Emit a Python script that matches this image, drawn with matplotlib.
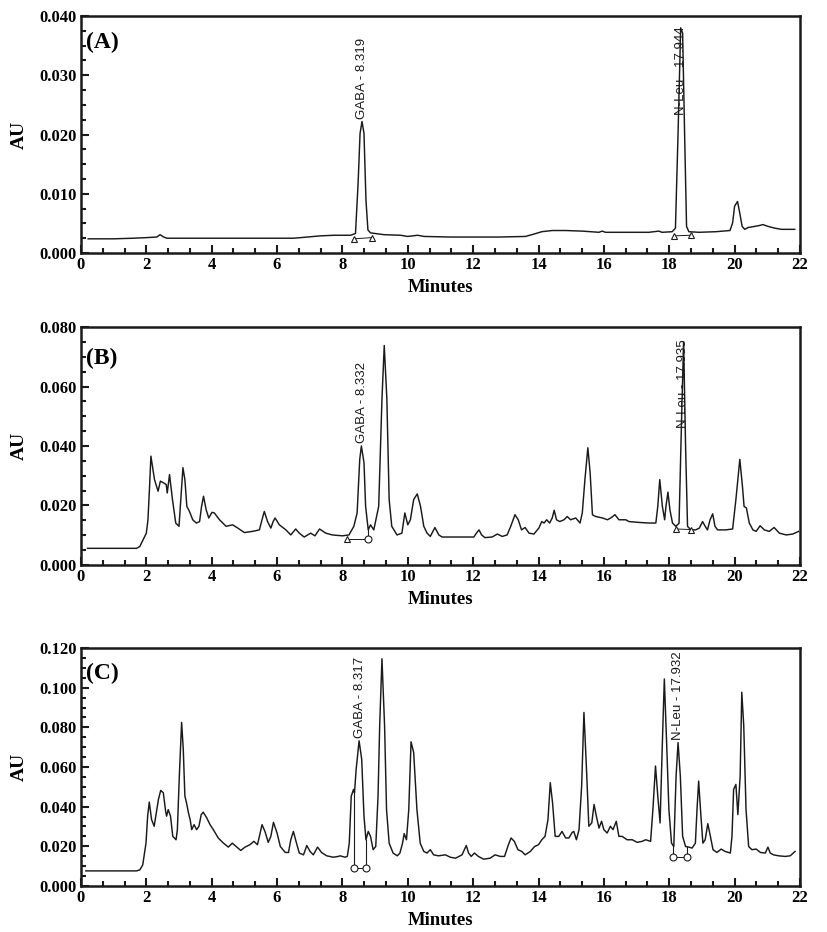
import numpy as np
import matplotlib
matplotlib.use("Agg")
import matplotlib.pyplot as plt
from matplotlib.ticker import MultipleLocator, FormatStrFormatter

# --- Chromatogram (A): standards -------------------------------------------
t_a = [0.22, 1.0, 1.6, 2.0, 2.32, 2.42, 2.53, 2.63, 3.65, 5.7, 6.5, 6.72, 7.33, 7.74,
       8.25, 8.40, 8.48, 8.54, 8.60, 8.66, 8.72, 8.78, 8.86, 9.27, 9.78, 10.0, 10.3,
       10.5, 11.3, 12.8, 13.6, 13.8, 14.1, 14.42, 14.83, 15.34, 15.85, 15.95, 16.05,
       16.87, 17.38, 17.68, 17.78, 18.09, 18.19, 18.27, 18.35, 18.41, 18.47, 18.53,
       18.6, 18.91, 19.42, 19.86, 19.94, 20.0, 20.09, 20.16, 20.23, 20.31, 20.41,
       20.72, 20.87, 21.02, 21.23, 21.43, 21.84]
au_a = [0.0024, 0.0024, 0.0025, 0.0026, 0.0027, 0.0031, 0.0027, 0.0025, 0.0025, 0.0025,
        0.0025, 0.0026, 0.0029, 0.0030, 0.0030, 0.0033, 0.0118, 0.0202, 0.0222, 0.0202,
        0.0090, 0.0039, 0.0034, 0.0031, 0.0030, 0.0028, 0.0030, 0.0028, 0.0027, 0.0027,
        0.0028, 0.0031, 0.0036, 0.0038, 0.0038, 0.0037, 0.0035, 0.0037, 0.0035, 0.0035,
        0.0035, 0.0037, 0.0035, 0.0036, 0.0042, 0.0202, 0.0380, 0.0371, 0.0202, 0.0045,
        0.0036, 0.0035, 0.0036, 0.0038, 0.0051, 0.0079, 0.0087, 0.0067, 0.0045, 0.0040,
        0.0043, 0.0046, 0.0048, 0.0045, 0.0042, 0.0040, 0.0040]

# --- Chromatogram (B) -------------------------------------------------------
t_b = [0.2, 1.7, 1.8, 2.0, 2.05, 2.1, 2.14, 2.25, 2.36, 2.43, 2.53, 2.61, 2.64, 2.71,
       2.80, 2.90, 3.00, 3.07, 3.12, 3.18, 3.24, 3.32, 3.42, 3.53, 3.63, 3.69, 3.75,
       3.83, 3.91, 4.01, 4.08, 4.24, 4.44, 4.64, 4.80, 5.00, 5.25, 5.46, 5.54, 5.61,
       5.71, 5.81, 5.88, 5.94, 6.07, 6.27, 6.42, 6.57, 6.68, 6.83, 7.03, 7.16, 7.30,
       7.49, 7.69, 8.00, 8.20, 8.35, 8.45, 8.53, 8.58, 8.66, 8.71, 8.79, 8.86, 8.96,
       9.11, 9.21, 9.28, 9.36, 9.43, 9.51, 9.67, 9.82, 9.91, 10.0, 10.08, 10.18, 10.29,
       10.39, 10.49, 10.59, 10.69, 10.83, 10.95, 11.05, 11.46, 11.77, 12.02, 12.10,
       12.18, 12.26, 12.36, 12.58, 12.74, 12.89, 13.04, 13.15, 13.28, 13.38, 13.48,
       13.59, 13.71, 13.86, 14.01, 14.10, 14.17, 14.25, 14.34, 14.42, 14.48, 14.55,
       14.65, 14.78, 14.88, 14.98, 15.14, 15.27, 15.34, 15.42, 15.51, 15.58, 15.65,
       15.75, 15.96, 16.11, 16.21, 16.34, 16.46, 16.67, 16.77, 17.08, 17.39, 17.59,
       17.65, 17.71, 17.79, 17.86, 17.90, 17.96, 18.02, 18.10, 18.20, 18.30, 18.38,
       18.44, 18.50, 18.56, 18.66, 18.81, 18.92, 19.02, 19.10, 19.17, 19.25, 19.33,
       19.40, 19.48, 19.73, 19.94, 20.04, 20.16, 20.24, 20.29, 20.36, 20.45, 20.56,
       20.66, 20.78, 20.91, 21.06, 21.21, 21.37, 21.58, 21.78, 21.96]
au_b = [0.0056, 0.0056, 0.0062, 0.0107, 0.0152, 0.0265, 0.0366, 0.0287, 0.0248, 0.0282,
        0.0276, 0.0270, 0.0242, 0.0304, 0.0220, 0.0141, 0.0130, 0.0242, 0.0327, 0.0287,
        0.0197, 0.0180, 0.0152, 0.0141, 0.0146, 0.0197, 0.0231, 0.0186, 0.0158, 0.0177,
        0.0175, 0.0152, 0.0130, 0.0135, 0.0124, 0.0109, 0.0113, 0.0118, 0.0152, 0.0180,
        0.0146, 0.0124, 0.0146, 0.0158, 0.0135, 0.0118, 0.0101, 0.0121, 0.0107, 0.0094,
        0.0107, 0.0098, 0.0121, 0.0107, 0.0101, 0.0098, 0.0101, 0.0130, 0.0175, 0.0355,
        0.0400, 0.0344, 0.0197, 0.0118, 0.0135, 0.0118, 0.0197, 0.0558, 0.0738, 0.0558,
        0.0220, 0.0130, 0.0101, 0.0107, 0.0175, 0.0135, 0.0152, 0.0220, 0.0239, 0.0197,
        0.0130, 0.0107, 0.0096, 0.0126, 0.0101, 0.0094, 0.0094, 0.0094, 0.0094, 0.0107,
        0.0118, 0.0101, 0.0092, 0.0094, 0.0104, 0.0096, 0.0101, 0.0130, 0.0169, 0.0152,
        0.0118, 0.0126, 0.0107, 0.0104, 0.0124, 0.0146, 0.0141, 0.0152, 0.0141, 0.0158,
        0.0184, 0.0152, 0.0146, 0.0152, 0.0163, 0.0152, 0.0158, 0.0141, 0.0175, 0.0287,
        0.0394, 0.0310, 0.0169, 0.0163, 0.0158, 0.0152, 0.0158, 0.0169, 0.0152, 0.0152,
        0.0146, 0.0143, 0.0141, 0.0141, 0.0197, 0.0287, 0.0197, 0.0152, 0.0197, 0.0245,
        0.0186, 0.0141, 0.0130, 0.0140, 0.0500, 0.0750, 0.0400, 0.0130, 0.0118, 0.0118,
        0.0124, 0.0146, 0.0130, 0.0118, 0.0152, 0.0172, 0.0130, 0.0118, 0.0118, 0.0121,
        0.0220, 0.0355, 0.0265, 0.0197, 0.0192, 0.0141, 0.0118, 0.0113, 0.0132, 0.0118,
        0.0113, 0.0126, 0.0107, 0.0101, 0.0104, 0.0113]

# --- Chromatogram (C) -------------------------------------------------------
t_c = [0.15, 1.70, 1.80, 1.89, 1.99, 2.04, 2.09, 2.16, 2.24, 2.32, 2.37, 2.44, 2.52,
       2.59, 2.62, 2.67, 2.74, 2.81, 2.91, 2.95, 3.01, 3.08, 3.13, 3.18, 3.23, 3.29,
       3.34, 3.39, 3.46, 3.54, 3.61, 3.68, 3.74, 3.85, 3.95, 4.05, 4.20, 4.36, 4.51,
       4.63, 4.77, 4.89, 5.02, 5.17, 5.29, 5.40, 5.46, 5.54, 5.63, 5.73, 5.81, 5.89,
       6.00, 6.10, 6.25, 6.35, 6.42, 6.50, 6.58, 6.68, 6.81, 6.91, 7.01, 7.11, 7.24,
       7.36, 7.52, 7.72, 7.88, 7.93, 8.08, 8.15, 8.21, 8.27, 8.34, 8.37, 8.42, 8.51,
       8.59, 8.66, 8.72, 8.79, 8.86, 8.94, 9.02, 9.09, 9.14, 9.21, 9.29, 9.35, 9.43,
       9.55, 9.68, 9.76, 9.84, 9.89, 9.96, 10.03, 10.10, 10.18, 10.28, 10.38, 10.49,
       10.59, 10.69, 10.79, 10.94, 11.15, 11.30, 11.46, 11.66, 11.73, 11.79, 11.86,
       11.94, 12.04, 12.16, 12.32, 12.52, 12.67, 12.83, 12.96, 13.08, 13.16, 13.26,
       13.37, 13.49, 13.59, 13.75, 13.88, 14.00, 14.10, 14.20, 14.29, 14.36, 14.43,
       14.51, 14.62, 14.72, 14.83, 14.93, 15.03, 15.08, 15.16, 15.24, 15.32, 15.39,
       15.46, 15.54, 15.63, 15.70, 15.77, 15.85, 15.93, 16.00, 16.10, 16.20, 16.28,
       16.38, 16.46, 16.56, 16.71, 16.87, 17.02, 17.17, 17.28, 17.43, 17.50, 17.58,
       17.65, 17.72, 17.79, 17.85, 17.92, 17.99, 18.07, 18.14, 18.21, 18.27, 18.34,
       18.41, 18.50, 18.60, 18.70, 18.80, 18.85, 18.90, 18.97, 19.03, 19.10, 19.18,
       19.26, 19.34, 19.46, 19.59, 19.71, 19.87, 19.92, 19.97, 20.04, 20.10, 20.17,
       20.22, 20.28, 20.35, 20.43, 20.53, 20.66, 20.79, 20.94, 21.02, 21.09, 21.19,
       21.35, 21.55, 21.70, 21.85]
au_c = [0.0076, 0.0076, 0.0081, 0.0106, 0.0216, 0.0352, 0.0423, 0.0335, 0.0301, 0.0385,
        0.0436, 0.0482, 0.0470, 0.0377, 0.0352, 0.0385, 0.0352, 0.0250, 0.0233, 0.0284,
        0.0554, 0.0825, 0.0690, 0.0453, 0.0419, 0.0368, 0.0335, 0.0284, 0.0309, 0.0284,
        0.0301, 0.0360, 0.0372, 0.0343, 0.0309, 0.0284, 0.0242, 0.0216, 0.0196, 0.0216,
        0.0196, 0.0179, 0.0196, 0.0208, 0.0225, 0.0208, 0.0250, 0.0309, 0.0275, 0.0220,
        0.0250, 0.0321, 0.0267, 0.0199, 0.0169, 0.0169, 0.0233, 0.0275, 0.0225, 0.0166,
        0.0157, 0.0204, 0.0174, 0.0157, 0.0196, 0.0169, 0.0152, 0.0145, 0.0149, 0.0152,
        0.0145, 0.0149, 0.0216, 0.0453, 0.0487, 0.0470, 0.0588, 0.0732, 0.0639, 0.0352,
        0.0233, 0.0275, 0.0250, 0.0183, 0.0199, 0.0453, 0.0808, 0.1146, 0.0808, 0.0385,
        0.0216, 0.0166, 0.0152, 0.0166, 0.0216, 0.0264, 0.0233, 0.0385, 0.0727, 0.0673,
        0.0385, 0.0216, 0.0174, 0.0166, 0.0183, 0.0157, 0.0152, 0.0157, 0.0145, 0.0140,
        0.0157, 0.0183, 0.0204, 0.0166, 0.0149, 0.0166, 0.0149, 0.0135, 0.0140, 0.0157,
        0.0149, 0.0149, 0.0208, 0.0242, 0.0225, 0.0183, 0.0174, 0.0157, 0.0174, 0.0199,
        0.0208, 0.0233, 0.0250, 0.0335, 0.0521, 0.0419, 0.0250, 0.0250, 0.0275, 0.0242,
        0.0242, 0.0270, 0.0275, 0.0233, 0.0284, 0.0504, 0.0875, 0.0622, 0.0301, 0.0318,
        0.0411, 0.0352, 0.0292, 0.0326, 0.0284, 0.0267, 0.0301, 0.0284, 0.0326, 0.0250,
        0.0250, 0.0233, 0.0233, 0.0220, 0.0225, 0.0233, 0.0225, 0.0385, 0.0605, 0.0453,
        0.0318, 0.0723, 0.1044, 0.0723, 0.0385, 0.0216, 0.0199, 0.0554, 0.0723, 0.0554,
        0.0250, 0.0199, 0.0196, 0.0191, 0.0216, 0.0385, 0.0529, 0.0352, 0.0216, 0.0233,
        0.0314, 0.0250, 0.0183, 0.0169, 0.0186, 0.0174, 0.0166, 0.0250, 0.0487, 0.0512,
        0.0360, 0.0554, 0.0977, 0.0808, 0.0385, 0.0199, 0.0183, 0.0186, 0.0169, 0.0166,
        0.0196, 0.0166, 0.0157, 0.0152, 0.0149, 0.0152, 0.0174]

# integration baseline marks: (t_start, au_start, t_end, au_end)
base_a = [(8.35, 0.0024, 8.90, 0.0026), (18.14, 0.0029, 18.66, 0.0030)]
base_b = [(8.15, 0.0088, 8.79, 0.0088), (18.22, 0.0121, 18.68, 0.0119)]
base_c = [(8.35, 0.0092, 8.72, 0.0092), (18.12, 0.0146, 18.54, 0.0146)]

# peak labels: (text, t, au of label bottom)
labels_a = [("GABA - 8.319", 8.60, 0.0226), ("N-Leu - 17.944", 18.36, 0.0233)]
labels_b = [("GABA - 8.332", 8.60, 0.0410), ("N-Leu - 17.935", 18.42, 0.0460)]
labels_c = [("GABA - 8.317", 8.54, 0.0746), ("N-Leu - 17.932", 18.27, 0.0736)]

# marker style for each baseline end: (start marker, start drop, end marker, end drop)
marks_a = [("^", False, "^", False), ("^", False, "^", False)]
marks_b = [("^", False, "o", True), ("^", False, "^", False)]
marks_c = [("o", True, "o", True), ("o", True, "o", True)]

panels = [
    ("(A)", t_a, au_a, 0.040, 0.010, 0.0025, base_a, marks_a, labels_a,
     [0.0979, 0.7285, 0.8694, 0.2543], 0.89),
    ("(B)", t_b, au_b, 0.080, 0.020, 0.005, base_b, marks_b, labels_b,
     [0.0979, 0.3938, 0.8694, 0.2553], 0.87),
    ("(C)", t_c, au_c, 0.120, 0.020, 0.005, base_c, marks_c, labels_c,
     [0.0979, 0.0494, 0.8694, 0.2553], 0.895),
]

serif = "Liberation Serif"
sans = "Liberation Sans"
ink = "#1a1a1a"

fig = plt.figure(figsize=(8.27, 9.32), dpi=100)

for name, t, au, ymax, ymaj, ymin, bases, marks, labels, pos, ly in panels:
    ax = fig.add_axes(pos)
    ax.plot(t, au, color=ink, lw=1.05)

    # baselines + drop lines
    for (t0, y0, t1, y1), (m0, d0, m1, d1) in zip(bases, marks):
        ax.plot([t0, t1], [y0, y1], color=ink, lw=0.7)
        for tt, yy, mk, dr in ((t0, y0, m0, d0), (t1, y1, m1, d1)):
            if dr:
                ax.plot([tt, tt], [yy, np.interp(tt, t, au)], color=ink, lw=0.8)
            ax.plot([tt], [yy], marker=mk, ms=5, mfc="white", mec=ink, mew=0.8)

    for txt, tx, tyy in labels:
        ax.text(tx, tyy, txt, rotation=90, ha="center", va="bottom",
                fontsize=9.5, family=sans, color=ink)

    ax.text(0.007, ly, name, transform=ax.transAxes, ha="left", va="center",
            fontsize=17, fontweight="bold", family=serif)

    ax.set_xlim(0, 22)
    ax.set_ylim(0, ymax)
    ax.xaxis.set_major_locator(MultipleLocator(2))
    ax.xaxis.set_minor_locator(MultipleLocator(2 / 3))
    ax.yaxis.set_major_locator(MultipleLocator(ymaj))
    ax.yaxis.set_minor_locator(MultipleLocator(ymin))
    ax.yaxis.set_major_formatter(FormatStrFormatter("%.3f"))
    ax.tick_params(which="both", direction="in", top=False, right=False,
                   width=1.5, color=ink)
    ax.tick_params(which="major", length=6, pad=3)
    ax.tick_params(which="minor", length=3.5)
    for lab in ax.get_xticklabels() + ax.get_yticklabels():
        lab.set_family(serif)
        lab.set_fontweight("bold")
        lab.set_fontsize(12)
    for sp in ax.spines.values():
        sp.set_linewidth(1.8)
        sp.set_color(ink)

    ax.set_xlabel("Minutes", family=serif, fontweight="bold", fontsize=13.5, labelpad=4)
    ax.set_ylabel("AU", family=serif, fontweight="bold", fontsize=14, labelpad=8)

fig.savefig("out.png", dpi=100)
